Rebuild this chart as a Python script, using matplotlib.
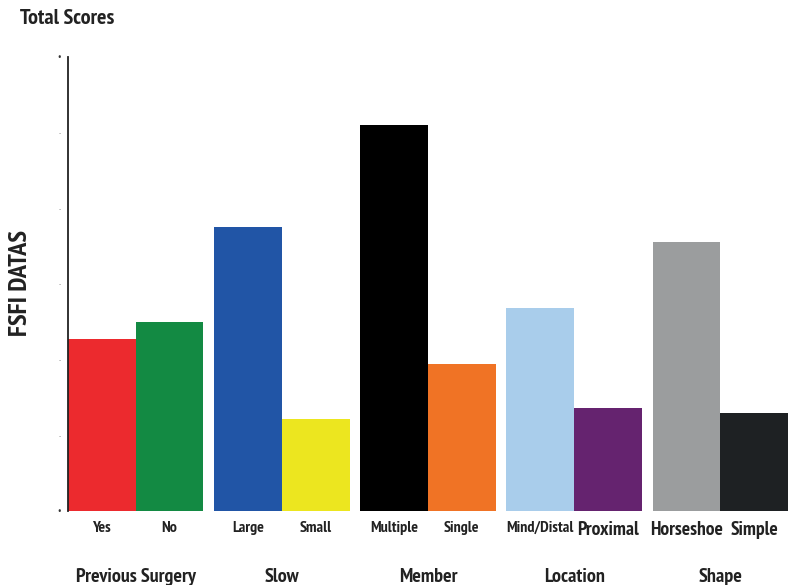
import matplotlib.pyplot as plt
import numpy as np
from matplotlib import font_manager

groups = ['Previous Surgery', 'Slow', 'Member', 'Location', 'Shape']
bar_labels = ['Yes', 'No', 'Large', 'Small', 'Multiple', 'Single',
              'Mind/Distal', 'Proximal', 'Horseshoe', 'Simple']
values = [2.27, 2.50, 3.75, 1.22, 5.10, 1.94, 2.68, 1.36, 3.55, 1.29]
colors = ['#ec2a2e', '#138a43', '#2155a6', '#ece61f', '#000000', '#f07325',
          '#a9cdeb', '#65236f', '#9b9d9e', '#1e2123']
big_labels = ['Proximal', 'Horseshoe', 'Simple']

# narrow font if there is one
cond = [f for f in font_manager.fontManager.ttflist
        if 'arrow' in f.fname and f.weight in (700, 'bold')]
if not cond:
    cond = [f for f in font_manager.fontManager.ttflist if 'arrow' in f.fname]
names = sorted({f.name for f in cond})
plt.rcParams['font.family'] = names[:1] + ['DejaVu Sans']

fig = plt.figure(figsize=(7.88, 5.85), dpi=100)
ax = fig.add_axes([0.0863, 0.1265, 0.9137, 0.7761])

step = 2.16
xs = []
for g in range(len(groups)):
    xs += [g * step + 0.5, g * step + 1.5]
xs = np.array(xs)

ax.bar(xs, values, width=1.0, color=colors, edgecolor='none')
ax.set_xlim(0, (len(groups) - 1) * step + 2)
ax.set_ylim(0, 6)

for s in ['top', 'right', 'bottom']:
    ax.spines[s].set_visible(False)
ax.spines['left'].set_linewidth(1.3)
ax.spines['left'].set_color('#222222')

ax.set_yticks(range(7))
ax.set_yticklabels(['•'] + ['·'] * 5 + ['•'], fontsize=7, color='#333333')
ax.tick_params(axis='y', length=0, pad=5)

ax.set_xticks(xs)
ax.set_xticklabels(bar_labels)
ax.tick_params(axis='x', length=0, pad=7)
for t in ax.get_xticklabels():
    t.set_fontweight('bold')
    t.set_color('#222222')
    t.set_fontsize(14 if t.get_text() in big_labels else 11.5)

for g, name in enumerate(groups):
    ax.text(g * step + 1, -0.145, name, transform=ax.get_xaxis_transform(),
            ha='center', va='center', fontsize=14.5, fontweight='bold', color='#222222')

fig.text(0.026, 0.516, 'FSFI DATAS', rotation=90, ha='center', va='center',
         fontsize=19, fontweight='bold', color='#222222')
fig.text(0.025, 0.968, 'Total Scores', ha='left', va='center',
         fontsize=16, fontweight='bold', color='#222222')

fig.savefig('out.png', dpi=100)
